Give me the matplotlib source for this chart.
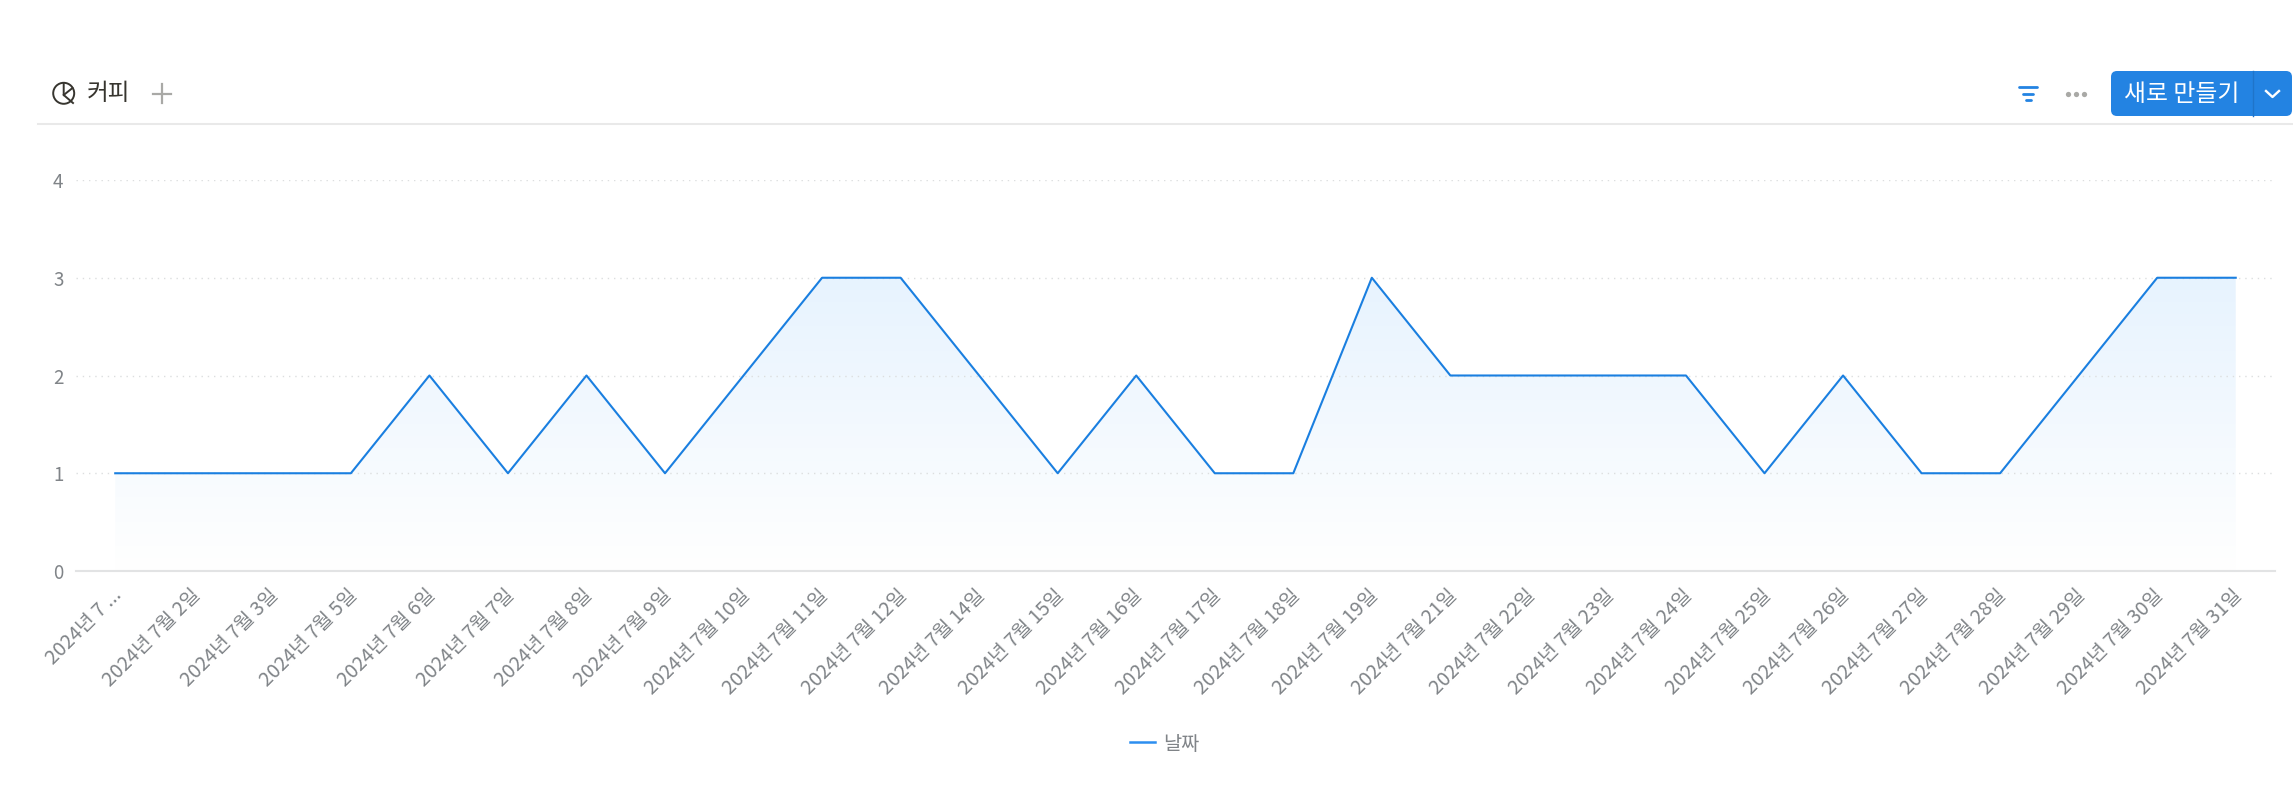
# -*- coding: utf-8 -*-
import numpy as np
import matplotlib
matplotlib.use('Agg')
import matplotlib.pyplot as plt
from matplotlib.colors import LinearSegmentedColormap
from matplotlib.patches import Circle, FancyBboxPatch
from matplotlib.lines import Line2D
from matplotlib.transforms import ScaledTranslation

plt.rcParams['font.family'] = ['Noto Sans CJK KR', 'DejaVu Sans']

days = [1, 2, 3, 5, 6, 7, 8, 9, 10, 11, 12, 14, 15, 16, 17, 18, 19, 21, 22, 23,
        24, 25, 26, 27, 28, 29, 30, 31]
counts = [1, 1, 1, 1, 2, 1, 2, 1, 2, 3, 3, 2, 1, 2, 1, 1, 3, 2, 2, 2,
          2, 1, 2, 1, 1, 2, 3, 3]
labels = ['2024년 7월 %d일' % d for d in days]
labels[0] = '2024년 7 ...'
yticks = [0, 1, 2, 3, 4]

W, H = 2293, 785
LINE = '#1a7fe0'
GREY = '#808488'

fig = plt.figure(figsize=(W / 100, H / 100), dpi=100, facecolor='white')

# pixel layer for the toolbar above the chart
bg = fig.add_axes([0, 0, 1, 1])
bg.set_xlim(0, W)
bg.set_ylim(H, 0)
bg.axis('off')

ax = fig.add_axes([76 / W, (H - 571) / H, (2275 - 76) / W, (571 - 180) / H])
ax.patch.set_alpha(0)
x = np.arange(len(counts))

# fill fades out from the top of the line down to the axis
cmap = LinearSegmentedColormap.from_list('fade', ['#e7f3fe', '#ffffff'])
grad = np.linspace(0, 1, 256).reshape(-1, 1)
im = ax.imshow(grad, extent=[x[0], x[-1], 0, 3], aspect='auto', cmap=cmap,
               origin='upper', zorder=1)
poly = ax.fill_between(x, counts, 0, color='none')
im.set_clip_path(poly.get_paths()[0], transform=ax.transData)
ax.set_xlim(-0.5, len(counts) - 0.5)
ax.set_ylim(0, 4)

ax.plot(x, counts, color=LINE, linewidth=1.5, zorder=3)

for v in yticks[1:]:
    ax.plot([-0.5, len(counts) - 0.53], [v, v], color='#dcdedf', linewidth=1,
            linestyle=(0, (1, 3.5)), zorder=2)

for s in ['top', 'right', 'left']:
    ax.spines[s].set_visible(False)
ax.spines['bottom'].set_color('#e2e3e4')
ax.spines['bottom'].set_linewidth(1.5)

ax.set_yticks(yticks)
ax.set_xticks(x)
ax.set_xticklabels(labels, rotation=45, ha='right', rotation_mode='anchor',
                   fontsize=14.2, color=GREY, fontweight='light')
ax.tick_params(axis='y', length=0, pad=9, labelsize=13.5, labelcolor=GREY)
ax.tick_params(axis='x', length=0, pad=10)

# nudge the slanted labels left, they end just short of their tick
nudge = ScaledTranslation(-4 / 100, 0, fig.dpi_scale_trans)
for lab in ax.get_xticklabels():
    lab.set_transform(lab.get_transform() + nudge)

# header
bg.plot([38, W], [124, 124], color='#e9e9e9', linewidth=1.5)
bg.add_patch(Circle((63.7, 93.3), 10.5, fill=False, ec='#37352f', lw=1.4))
bg.plot([63.7, 63.7, 73], [83, 95, 103], color='#37352f', lw=1.4)
bg.plot([63.7, 72.5], [95, 88], color='#37352f', lw=1.4)
bg.text(87, 94, '커피', fontsize=17, color='#37352f', va='center', ha='left',
        fontweight='light')
bg.plot([162, 162], [84, 103], color='#a9a9a6', lw=1.6)
bg.plot([153, 171], [93.5, 93.5], color='#a9a9a6', lw=1.6)

bg.plot([2019, 2037], [87, 87], color='#2383e2', lw=2, solid_capstyle='round')
bg.plot([2023, 2033], [93.5, 93.5], color='#2383e2', lw=2, solid_capstyle='round')
bg.plot([2025.5, 2030.5], [100, 100], color='#2383e2', lw=2, solid_capstyle='round')
bg.plot([2067.5, 2076, 2084], [93.5, 93.5, 93.5], linestyle='none', marker='o', ms=3.8,
        mew=0, color='#a9a9a6')

bg.add_patch(FancyBboxPatch((2111, 71), 181, 45, boxstyle='round,pad=0,rounding_size=6',
                            fc='#2383e2', ec='none'))
bg.plot([2253, 2253], [71, 116], color='#1f74c9', lw=1)
bg.text(2182, 94.5, '새로 만들기', fontsize=17.2, color='white', va='center', ha='center',
        fontweight='light')
bg.plot([2266, 2272.5, 2279], [91, 97, 91], color='white', lw=1.7)

# legend
bg.add_line(Line2D([1130, 1155], [742, 742], color='#2c8ef0', lw=1.8))
bg.text(1163, 744, '날짜', fontsize=14.2, color=GREY, va='center', ha='left',
        fontweight='light')

fig.savefig('out.png', dpi=100)
